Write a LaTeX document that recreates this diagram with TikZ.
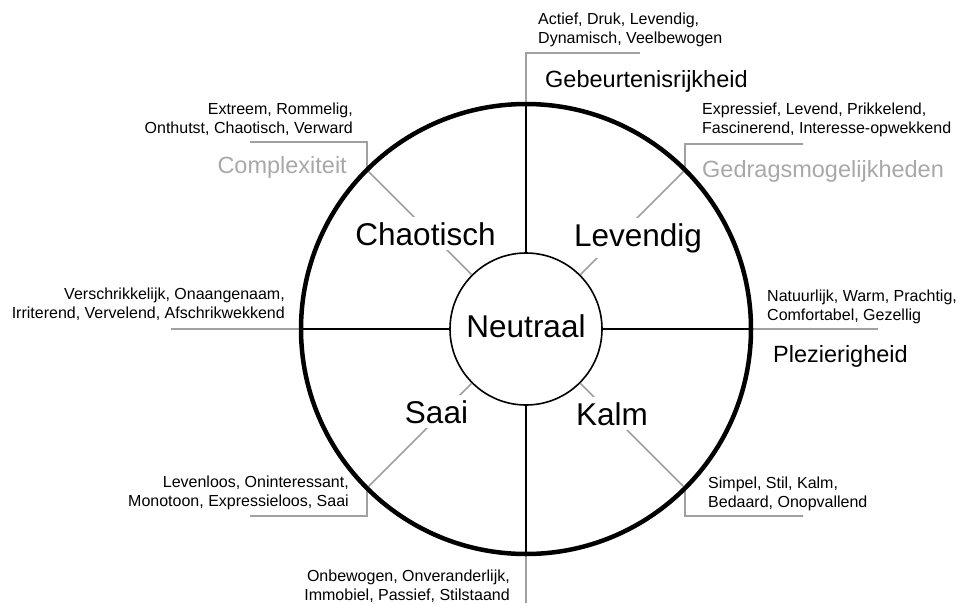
\documentclass[tikz,border=0pt]{standalone}
\usepackage{fontspec}
\setmainfont{Liberation Sans}
\definecolor{leadgray}{RGB}{160,160,160}
\definecolor{labgray}{RGB}{168,168,168}
\tikzset{
  spoke/.style={line width=1.6pt},
  leader/.style={line width=1.6pt,draw=leadgray},
  words/.style={font=\fontsize{16}{18.5}\selectfont,inner sep=0pt},
  axis/.style={font=\fontsize{23.5}{28}\selectfont,inner sep=0pt},
  mood/.style={font=\fontsize{31.5}{36}\selectfont,fill=white,inner sep=5pt}
}
\begin{document}
\begin{tikzpicture}[x=1pt,y=-1pt]
\useasboundingbox (0,0) rectangle (959,603);
\coordinate (c) at (526,329);
\coordinate (ctop) at (526,104);
\coordinate (cbot) at (526,554);
\coordinate (cleft) at (301,329);
\coordinate (cright) at (751,329);
\coordinate (cnw) at (367,170);
\coordinate (cne) at (685,170);
\coordinate (csw) at (367,488);
\coordinate (cse) at (685,488);
\coordinate (ttop) at (640,53);
\coordinate (tbot) at (526,603);
\coordinate (tleft) at (171,329);
\coordinate (tright) at (878,329);
\coordinate (tnw) at (250,142);
\coordinate (tne) at (803,144);
\coordinate (tsw) at (250,516);
\coordinate (tse) at (803,516);

\node[circle,draw,line width=1.6pt,minimum size=152pt,inner sep=0pt,text depth=6pt,
      font=\fontsize{31.5}{36}\selectfont] (neutraal) at (c) {Neutraal};

\draw[leader] (neutraal.135) -- (cnw) |- (tnw);
\draw[leader] (neutraal.45) -- (cne) |- (tne);
\draw[leader] (neutraal.-135) -- (csw) |- (tsw);
\draw[leader] (neutraal.-45) -- (cse) |- (tse);

\draw[spoke] (neutraal.north) -- (ctop);
\draw[leader] (ctop) |- (ttop);
\draw[spoke] (neutraal.south) -- (cbot);
\draw[leader] (cbot) -- (tbot);
\draw[spoke] (neutraal.west) -- (cleft);
\draw[leader] (cleft) -- (tleft);
\draw[spoke] (neutraal.east) -- (cright);
\draw[leader] (cright) -- (tright);

\draw[line width=4.5pt] (c) circle[radius=225];

\node[mood,anchor=base] (chaotisch) at (425.5,245) {Chaotisch};
\node[mood,anchor=base] (levendig) at (638,246) {Levendig};
\node[mood,anchor=base] (saai) at (436.5,423) {Saai};
\node[mood,anchor=base] (kalm) at (612,425) {Kalm};

\node[axis,anchor=base west] (gebeurtenis) at (545,87) {Gebeurtenisrijkheid};
\node[axis,anchor=base east,text=labgray] (complexiteit) at (347,173) {Complexiteit};
\node[axis,anchor=base west,text=labgray] (gedrag) at (702,177) {Gedragsmogelijkheden};
\node[axis,anchor=base west] (plezier) at (773,362) {Plezierigheid};

\node[words,anchor=base west,align=left] (wtop) at (538,43)
  {Actief, Druk, Levendig,\\Dynamisch, Veelbewogen};
\node[words,anchor=base east,align=right] (wnw) at (353,133)
  {Extreem, Rommelig,\\Onthutst, Chaotisch, Verward};
\node[words,anchor=base west,align=left] (wne) at (702,133)
  {Expressief, Levend, Prikkelend,\\Fascinerend, Interesse-opwekkend};
\node[words,anchor=base east,align=right] (wleft) at (285,318)
  {Verschrikkelijk, Onaangenaam,\\Irriterend, Vervelend, Afschrikwekkend};
\node[words,anchor=base west,align=left] (wright) at (767,320)
  {Natuurlijk, Warm, Prachtig,\\Comfortabel, Gezellig};
\node[words,anchor=base east,align=right] (wsw) at (349,506)
  {Levenloos, Oninteressant,\\Monotoon, Expressieloos, Saai};
\node[words,anchor=base west,align=left] (wse) at (708,507)
  {Simpel, Stil, Kalm,\\Bedaard, Onopvallend};
\node[words,anchor=base east,align=right] (wbot) at (510,600)
  {Onbewogen, Onveranderlijk,\\Immobiel, Passief, Stilstaand};
\end{tikzpicture}
\end{document}
